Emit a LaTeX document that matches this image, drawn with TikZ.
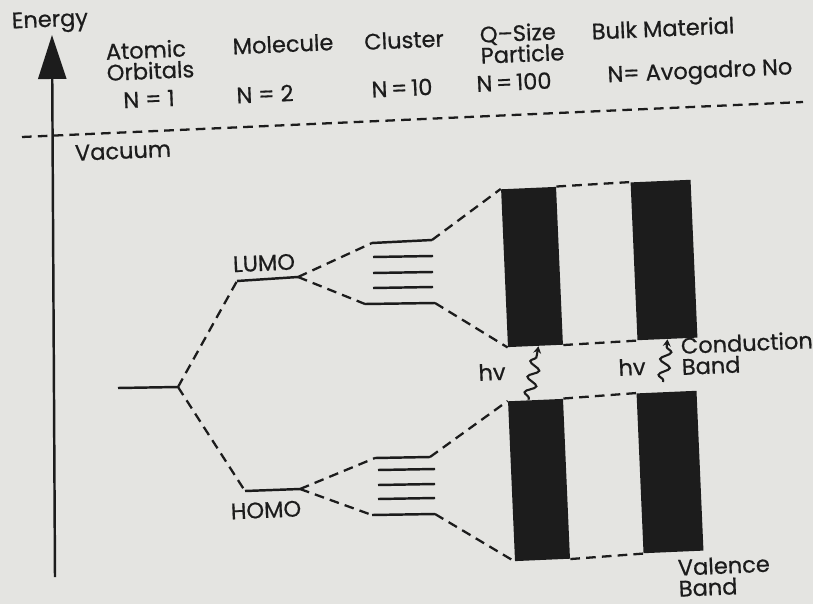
\documentclass[tikz,border=0pt]{standalone}
\usepackage{fontspec}
\setmainfont{Poppins}[FakeBold=0.6]
\usetikzlibrary{arrows.meta,decorations.pathmorphing}
\definecolor{paper}{RGB}{228,228,225}
\definecolor{ink}{RGB}{28,28,28}

\begin{document}
\begin{tikzpicture}[
    x=0.02cm, y=-0.02cm,
    lbl/.style={text=ink, font=\fontsize{12.8}{12}\selectfont, rotate=2.5, inner sep=0pt, align=center},
    band/.style={rectangle, fill=ink, draw=none, rotate=2.5, inner sep=0pt, minimum width=1.1cm, minimum height=3.16cm},
    lvl/.style={ink, line width=1.4pt},
    link/.style={ink, line width=1.3pt, dash pattern=on 5.5pt off 3.5pt},
    photon/.style={ink, line width=1.2pt, -{Stealth[length=4pt,width=4.5pt]}, decorate,
        decoration={snake, amplitude=3pt, segment length=9pt, pre length=1pt, post length=3pt}}
]
\fill[paper] (0,0) rectangle (813,604);
\useasboundingbox (0,0) rectangle (813,604);

% energy axis and vacuum level
\coordinate (eb) at (55,577);
\coordinate (et) at (52,35);
\draw[ink, line width=1.4pt, -{Triangle[length=8.8mm, width=5.6mm]}] (eb) -- (et);
\coordinate (vl) at (22,137);
\coordinate (vr) at (803,102);
\draw[link] (vl) -- (vr);

% headings
\node[lbl] (energy) at (50,22) {Energy};
\node[lbl, align=left] (atomic) at (150,60) {Atomic\\Orbitals};
\node[lbl] (n1) at (149,99) {N = 1};
\node[lbl] (molecule) at (283,44) {Molecule};
\node[lbl] (n2) at (265,94) {N = 2};
\node[lbl] (cluster) at (404,40) {Cluster};
\node[lbl] (n10) at (402,88) {N\,=\,10};
\node[lbl, align=left] (qsize) at (522,43) {Q--Size\\Particle};
\node[lbl] (n100) at (514,82) {N\,=\,100};
\node[lbl] (bulk) at (663,28) {Bulk Material};
\node[lbl] (navo) at (700,73) {N= Avogadro No};
\node[lbl] (vacuum) at (123,151) {Vacuum};

% atomic, molecular levels
\coordinate (aoL) at (118,388);
\coordinate (aoR) at (178,387);
\coordinate (luL) at (237,281);
\coordinate (luR) at (298,277);
\coordinate (hoL) at (245,491);
\coordinate (hoR) at (300,489);
\draw[lvl] (aoL) -- (aoR);
\draw[lvl] (luL) -- (luR);
\draw[lvl] (hoL) -- (hoR);
\node[lbl] (lumo) at (264,263) {LUMO};
\node[lbl] (homo) at (266,510) {HOMO};

% cluster levels
\coordinate (cuTL) at (372,243);
\coordinate (cuTR) at (432,240);
\coordinate (cuBL) at (365,304);
\coordinate (cuBR) at (435,303);
\coordinate (chTL) at (375,458);
\coordinate (chTR) at (430,457);
\coordinate (chBL) at (372,515);
\coordinate (chBR) at (435,514);
\draw[lvl] (cuTL) -- (cuTR);
\draw[lvl] (cuBL) -- (cuBR);
\draw[lvl] (chTL) -- (chTR);
\draw[lvl] (chBL) -- (chBR);
\foreach \yy in {257,273,288}
    \draw[lvl] (373,\yy) -- (433,\yy-1);
\foreach \yy in {470,485,499}
    \draw[lvl] (378,\yy) -- (435,\yy-1);

% bands
\node[band] (qcb) at (532,267) {};
\node[band, minimum width=1.2cm] (bcb) at (664,260) {};
\node[band, minimum height=3.2cm] (qvb) at (539,480) {};
\node[band, minimum width=1.2cm, minimum height=3.2cm] (bvb) at (670,472) {};

% correlation lines
\draw[link] (aoR) -- (luL);
\draw[link] (aoR) -- (hoL);
\draw[link] (luR) -- (cuTL);
\draw[link] (luR) -- (cuBL);
\draw[link] (hoR) -- (chTL);
\draw[link] (hoR) -- (chBL);
\draw[link] (cuTR) -- (qcb.north west);
\draw[link] (cuBR) -- (qcb.south west);
\draw[link] (chTR) -- (qvb.north west);
\draw[link] (chBR) -- (qvb.south west);
\draw[link] (qcb.north east) -- (bcb.north west);
\draw[link] (qcb.south east) -- (bcb.south west);
\draw[link] (qvb.north east) -- (bvb.north west);
\draw[link] (qvb.south east) -- (bvb.south west);

% excitations
\draw[photon] ([xshift=-0.14cm]qvb.north) -- ([xshift=0.06cm]qcb.south);
\coordinate (bw) at (663,382);
\draw[photon] (bw) -- (bcb.south);
\node[lbl] (hvq) at (492,372) {hv};
\node[lbl] (hvb) at (632,367) {hv};
\node[lbl, anchor=west, align=left] (cband) at (681,356) {Conduction\\Band};
\node[lbl, anchor=west, align=left] (vband) at (678,578) {Valence\\Band};
\end{tikzpicture}
\end{document}
